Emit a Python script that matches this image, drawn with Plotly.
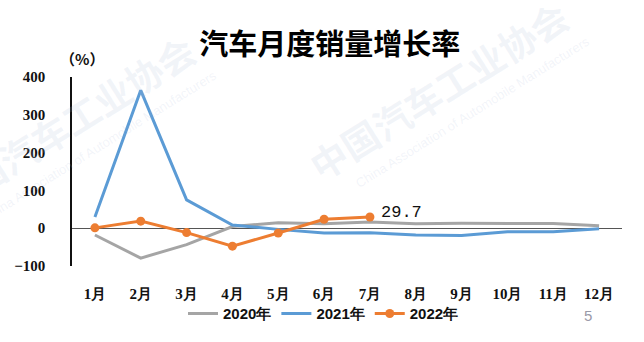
import plotly.graph_objects as go

# Monthly vehicle sales growth rate (%), year over year
months = ["1月", "2月", "3月", "4月", "5月", "6月", "7月", "8月", "9月", "10月", "11月", "12月"]
growth_2020 = [-18.0, -79.1, -43.3, 4.4, 14.5, 11.6, 16.4, 11.6, 12.8, 12.5, 12.6, 6.4]
growth_2021 = [29.5, 364.8, 74.9, 8.6, -3.1, -12.4, -11.9, -17.8, -19.6, -9.4, -9.1, -1.6]
growth_2022 = [0.9, 18.7, -11.7, -47.6, -12.6, 23.8, 29.7]

y_ticks = [-100, 0, 100, 200, 300, 400]

W, H = 644, 342
L, R, T, B = 72, 22, 77, 71

fig = go.Figure()
fig.add_trace(go.Scatter(
    x=months, y=growth_2020, name="2020年", mode="lines",
    line=dict(color="#a5a5a5", width=3),
))
fig.add_trace(go.Scatter(
    x=months, y=growth_2021, name="2021年", mode="lines",
    line=dict(color="#5b9bd5", width=3),
))
fig.add_trace(go.Scatter(
    x=months[:len(growth_2022)], y=growth_2022, name="2022年", mode="lines+markers",
    line=dict(color="#ed7d31", width=3),
    marker=dict(color="#ed7d31", size=9),
))

plot_w = W - L - R
plot_h = H - T - B


def px_to_paper(px, py):
    return (px - L) / plot_w, (H - B - py) / plot_h


annotations = []
# Association watermark (two copies), semi-transparent so lines show through
for dx, dy in [(0, 0), (-373, 35)]:
    cx, cy = px_to_paper(438 + dx, 90 + dy)
    annotations.append(dict(
        x=cx, y=cy, xref="paper", yref="paper", text="<b>中国汽车工业协会</b>",
        showarrow=False, textangle=-32, xanchor="center", yanchor="middle",
        font=dict(family="Noto Sans CJK SC", size=37, color="rgba(170,185,215,0.16)"),
    ))
    ex, ey = px_to_paper(472 + dx, 113 + dy)
    annotations.append(dict(
        x=ex, y=ey, xref="paper", yref="paper",
        text="China Association of Automobile Manufacturers",
        showarrow=False, textangle=-32, xanchor="center", yanchor="middle",
        font=dict(family="Liberation Sans", size=13, color="rgba(170,185,215,0.16)"),
    ))

ux, uy = px_to_paper(82, 58)
annotations.append(dict(
    x=ux, y=uy, xref="paper", yref="paper", text="（%）", showarrow=False,
    xanchor="center", yanchor="middle",
    font=dict(family="Noto Sans CJK SC", size=15, color="#111111", weight="bold"),
))
px5, py5 = px_to_paper(588, 322)
annotations.append(dict(
    x=px5, y=py5, xref="paper", yref="paper", text="5", showarrow=False,
    xanchor="center", yanchor="middle",
    font=dict(family="Liberation Sans", size=15, color="#9a9aa8"),
))

for a in annotations:
    fig.add_annotation(**a)

# Latest value label
last_idx = len(growth_2022) - 1
fig.add_annotation(
    x=months[last_idx], y=growth_2022[last_idx], text=f"{growth_2022[last_idx]}",
    showarrow=False, xanchor="left", yanchor="middle", xshift=9, yshift=4,
    font=dict(family="Liberation Mono", size=17, color="#111111"),
)

fig.update_layout(
    width=W, height=H,
    margin=dict(l=L, r=R, t=T, b=B),
    paper_bgcolor="white", plot_bgcolor="white",
    title=dict(
        text="<b>汽车月度销量增长率</b>", x=0.512, xanchor="center", y=1 - 45 / H, yanchor="middle",
        font=dict(family="Noto Sans CJK SC", size=29, color="#000000"),
    ),
    showlegend=True,
    legend=dict(
        orientation="h", x=(183 - L) / plot_w, xanchor="left",
        y=(H - B - 320) / plot_h, yanchor="middle",
        font=dict(family="Liberation Sans", size=15, color="#111111", weight="bold"),
        itemwidth=30, bgcolor="rgba(0,0,0,0)",
    ),
    xaxis=dict(
        type="category", categoryorder="array", categoryarray=months,
        range=[-0.5, len(months) - 0.5],
        showgrid=False, showline=False, zeroline=False, ticks="",
        ticklabelstandoff=17,
        tickfont=dict(family="Liberation Serif", size=15, color="#111111", weight="bold"),
    ),
    yaxis=dict(
        range=[-100, 400], tickvals=y_ticks,
        showgrid=False, showline=True, linecolor="#111111", linewidth=1.5,
        zeroline=True, zerolinecolor="#555555", zerolinewidth=1,
        ticks="", ticklabelstandoff=22,
        tickfont=dict(family="Liberation Serif", size=15, color="#111111", weight="bold"),
    ),
    font=dict(family="Noto Sans CJK SC"),
)

fig.write_html("out.html")
